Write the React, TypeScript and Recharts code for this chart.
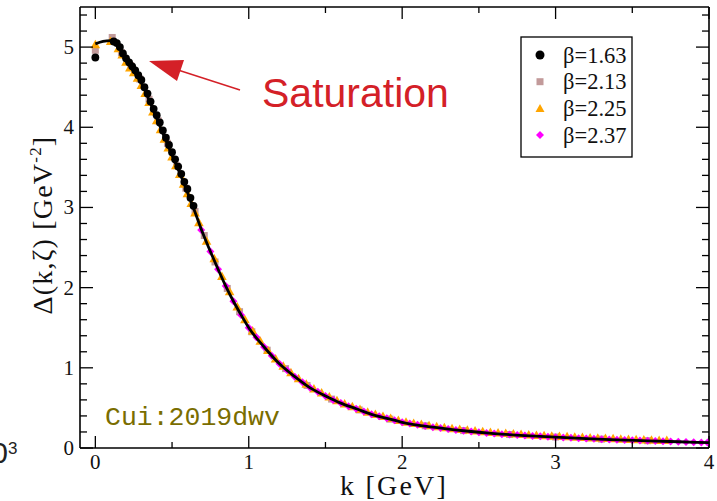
import React from 'react';
import { ComposedChart, Scatter, Line, XAxis, YAxis } from 'recharts';

// ---------- data (k [GeV], Delta [GeV^-2]) ----------
const fitCurve: number[][] = [[0,5.04],[0.05,5.07],[0.1,5.08],[0.125,5.06],[0.15,5.0],[0.2,4.84],[0.25,4.7],[0.3,4.55],[0.35,4.34],[0.4,4.11],[0.45,3.88],[0.5,3.65],[0.55,3.43],[0.6,3.19],[0.65,2.94],[0.7,2.68],[0.75,2.45],[0.8,2.23],[0.85,2.02],[0.9,1.83],[0.95,1.66],[1.0,1.5],[1.1,1.26],[1.2,1.05],[1.3,0.89],[1.4,0.75],[1.5,0.65],[1.6,0.56],[1.7,0.49],[1.8,0.42],[1.9,0.37],[2.0,0.32],[2.2,0.26],[2.4,0.215],[2.6,0.18],[2.8,0.155],[3.0,0.135],[3.2,0.118],[3.4,0.102],[3.6,0.09],[3.8,0.078],[4.0,0.067]];

const beta163: number[][] = [[0,4.87],[0.12,5.07],[0.14,5.05],[0.16,5.0],[0.18,4.92],[0.2,4.86],[0.22,4.81],[0.24,4.76],[0.26,4.71],[0.28,4.65],[0.3,4.59],[0.32,4.5],[0.34,4.42],[0.36,4.32],[0.38,4.23],[0.4,4.15],[0.42,4.06],[0.44,3.96],[0.46,3.87],[0.48,3.78],[0.5,3.69],[0.52,3.6],[0.54,3.51],[0.56,3.42],[0.58,3.32],[0.6,3.23],[0.62,3.12],[0.64,3.02]];

const beta213: number[][] = [[0,4.96],[0.11,5.12],[0.17,4.93],[0.23,4.77],[0.29,4.6],[0.35,4.35],[0.41,4.08],[0.47,3.8],[0.53,3.52],[0.59,3.24],[0.65,2.95],[0.71,2.65],[0.78,2.32],[0.86,1.99],[0.94,1.7],[1.02,1.45],[1.12,1.22],[1.24,0.99],[1.38,0.78],[1.54,0.61],[1.72,0.475],[1.92,0.36],[2.15,0.277],[2.4,0.217],[2.7,0.168],[3.0,0.137],[3.3,0.111],[3.6,0.091]];

const beta225: number[][] = [[0,5.03],[0.1,5.07],[0.15,4.98],[0.175,4.9],[0.2,4.81],[0.225,4.74],[0.25,4.68],[0.275,4.61],[0.3,4.52],[0.325,4.42],[0.35,4.31],[0.375,4.19],[0.4,4.08],[0.425,3.97],[0.45,3.85],[0.475,3.74],[0.5,3.63],[0.525,3.52],[0.55,3.41],[0.575,3.29],[0.6,3.17],[0.625,3.05],[0.65,2.93],[0.675,2.81],[0.725,2.58],[0.775,2.36],[0.825,2.14],[0.875,1.95],[0.925,1.76],[0.975,1.6],[1.025,1.46],[1.075,1.33],[1.125,1.215],[1.175,1.11],[1.225,1.02],[1.275,0.94],[1.325,0.865],[1.375,0.795],[1.425,0.735],[1.475,0.685],[1.525,0.635],[1.575,0.59],[1.625,0.55],[1.675,0.515],[1.725,0.48],[1.775,0.447],[1.825,0.417],[1.875,0.392],[1.925,0.367],[1.975,0.342],[2.025,0.322],[2.075,0.307],[2.125,0.292],[2.175,0.277],[2.225,0.264],[2.275,0.252],[2.325,0.241],[2.375,0.23],[2.425,0.22],[2.475,0.211],[2.525,0.202],[2.575,0.194],[2.625,0.186],[2.675,0.18],[2.725,0.174],[2.775,0.168],[2.825,0.162],[2.875,0.157],[2.925,0.152],[2.975,0.147],[3.025,0.143],[3.075,0.139],[3.125,0.135],[3.175,0.13],[3.225,0.126],[3.275,0.122],[3.325,0.118],[3.375,0.114],[3.425,0.11],[3.475,0.107],[3.525,0.104],[3.575,0.101],[3.625,0.098],[3.675,0.095],[3.725,0.092]];

const beta237: number[][] = [[0.69,2.72],[0.75,2.45],[0.8,2.23],[0.85,2.02],[0.9,1.83],[0.95,1.66],[1.0,1.5],[1.05,1.38],[1.1,1.26],[1.15,1.15],[1.2,1.05],[1.25,0.97],[1.3,0.89],[1.35,0.82],[1.4,0.75],[1.45,0.7],[1.5,0.65],[1.55,0.6],[1.6,0.56],[1.65,0.52],[1.7,0.49],[1.75,0.455],[1.8,0.42],[1.85,0.395],[1.9,0.37],[1.95,0.345],[2.0,0.32],[2.05,0.305],[2.1,0.29],[2.15,0.275],[2.2,0.26],[2.25,0.248],[2.3,0.237],[2.35,0.226],[2.4,0.215],[2.45,0.206],[2.5,0.197],[2.55,0.188],[2.6,0.18],[2.65,0.173],[2.7,0.167],[2.75,0.161],[2.8,0.155],[2.85,0.15],[2.9,0.145],[2.95,0.14],[3.0,0.135],[3.05,0.131],[3.1,0.127],[3.15,0.122],[3.2,0.118],[3.25,0.114],[3.3,0.11],[3.35,0.106],[3.4,0.102],[3.45,0.099],[3.5,0.096],[3.55,0.093],[3.6,0.09],[3.65,0.087],[3.7,0.084],[3.75,0.081],[3.8,0.078],[3.85,0.075],[3.9,0.072],[3.95,0.07],[3.99,0.068]];

const seriesNames = ['β=1.63', 'β=2.13', 'β=2.25', 'β=2.37'];
const seriesColors = ['#000000', '#c29a9a', '#ffa500', '#ff00ff'];

const xTicks = [0, 0.5, 1, 1.5, 2, 2.5, 3, 3.5, 4];
const yTicks = [0, 0.2, 0.4, 0.6, 0.8, 1, 1.2, 1.4, 1.6, 1.8, 2, 2.2, 2.4, 2.6, 2.8, 3, 3.2, 3.4, 3.6, 3.8, 4, 4.2, 4.4, 4.6, 4.8, 5, 5.2, 5.4];
const xLabel = 'k [GeV]';
const annotation = 'Saturation';
const citation = 'Cui:2019dwv';

const toRows = (a: number[][]) => a.map(([k, v]) => ({ k, v }));

const SERIF = '"Liberation Serif", "Times New Roman", serif';
const isMajor = (v: number) => Math.abs(v - Math.round(v)) < 1e-6;

const BottomTick = (p: any) => {
  const { x, y, payload } = p;
  const major = isMajor(payload.value);
  return (
    <g>
      <line x1={x} x2={x} y1={y} y2={y - (major ? 12 : 6)} stroke="#000" strokeWidth={1.3} />
      {major && (
        <text x={x} y={y + 21} textAnchor="middle" fontFamily={SERIF} fontSize={21} fill="#111">{payload.value}</text>
      )}
    </g>
  );
};
const TopTick = (p: any) => {
  const { x, y, payload } = p;
  const major = isMajor(payload.value);
  return <line x1={x} x2={x} y1={y} y2={y + (major ? 12 : 6)} stroke="#000" strokeWidth={1.3} />;
};
const LeftTick = (p: any) => {
  const { x, y, payload } = p;
  const major = isMajor(payload.value);
  return (
    <g>
      <line x1={x} x2={x + (major ? 13 : 7)} y1={y} y2={y} stroke="#000" strokeWidth={1.3} />
      {major && (
        <text x={x - 6} y={y + 7} textAnchor="end" fontFamily={SERIF} fontSize={21} fill="#111">{payload.value}</text>
      )}
    </g>
  );
};
const RightTick = (p: any) => {
  const { x, y, payload } = p;
  const major = isMajor(payload.value);
  return <line x1={x} x2={x - (major ? 13 : 7)} y1={y} y2={y} stroke="#000" strokeWidth={1.3} />;
};

const CircleShape = (p: any) => <circle cx={p.cx} cy={p.cy} r={3.9} fill={seriesColors[0]} />;
const SquareShape = (p: any) => <rect x={p.cx - 3.5} y={p.cy - 3.5} width={7} height={7} fill={seriesColors[1]} />;
const TriShape = (p: any) => (
  <polygon points={`${p.cx},${p.cy - 5} ${p.cx - 4.8},${p.cy + 3.5} ${p.cx + 4.8},${p.cy + 3.5}`} fill={seriesColors[2]} />
);
const DiamondShape = (p: any) => (
  <polygon points={`${p.cx},${p.cy - 4} ${p.cx + 4},${p.cy} ${p.cx},${p.cy + 4} ${p.cx - 4},${p.cy}`} fill={seriesColors[3]} />
);

const legendMarker = (i: number, x: number, y: number) => {
  if (i === 0) return <circle cx={x} cy={y} r={4.5} fill={seriesColors[0]} />;
  if (i === 1) return <rect x={x - 3.5} y={y - 3.5} width={7} height={7} fill={seriesColors[1]} />;
  if (i === 2) return <polygon points={`${x},${y - 4.5} ${x - 4.5},${y + 3.5} ${x + 4.5},${y + 3.5}`} fill={seriesColors[2]} />;
  return <polygon points={`${x},${y - 4} ${x + 4},${y} ${x},${y + 4} ${x - 4},${y}`} fill={seriesColors[3]} />;
};

export default function App() {
  const W = 717;
  const H = 501;
  return (
    <div style={{ position: 'absolute', left: 0, top: 0, width: W, height: H, background: '#fff' }}>
      <ComposedChart width={W} height={H} margin={{ top: 6, right: 7, bottom: 52, left: 79 }}>
        <XAxis xAxisId="b" dataKey="k" type="number" domain={[-0.1, 4]} ticks={xTicks} interval={0}
          orientation="bottom" height={1} tickSize={0} tickMargin={0} tick={BottomTick}
          axisLine={{ stroke: '#000', strokeWidth: 1.6 }} allowDataOverflow />
        <XAxis xAxisId="t" dataKey="k" type="number" domain={[-0.1, 4]} ticks={xTicks} interval={0}
          orientation="top" height={1} tickSize={0} tickMargin={0} tick={TopTick}
          axisLine={{ stroke: '#000', strokeWidth: 1.6 }} allowDataOverflow />
        <YAxis yAxisId="l" dataKey="v" type="number" domain={[0, 5.5]} ticks={yTicks} interval={0}
          orientation="left" width={1} tickSize={0} tickMargin={0} tick={LeftTick}
          axisLine={{ stroke: '#000', strokeWidth: 1.6 }} allowDataOverflow />
        <YAxis yAxisId="r" dataKey="v" type="number" domain={[0, 5.5]} ticks={yTicks} interval={0}
          orientation="right" width={1} tickSize={0} tickMargin={0} tick={RightTick}
          axisLine={{ stroke: '#000', strokeWidth: 1.6 }} allowDataOverflow />
        <Scatter name={seriesNames[1]} data={toRows(beta213)} xAxisId="b" yAxisId="l" dataKey="v" shape={SquareShape} isAnimationActive={false} />
        <Scatter name={seriesNames[2]} data={toRows(beta225)} xAxisId="b" yAxisId="l" dataKey="v" shape={TriShape} isAnimationActive={false} />
        <Scatter name={seriesNames[3]} data={toRows(beta237)} xAxisId="b" yAxisId="l" dataKey="v" shape={DiamondShape} isAnimationActive={false} />
        <Scatter name={seriesNames[0]} data={toRows(beta163)} xAxisId="b" yAxisId="l" dataKey="v" shape={CircleShape} isAnimationActive={false} />
        <Line data={toRows(fitCurve)} xAxisId="b" yAxisId="l" dataKey="v" type="monotone" stroke="#000" strokeWidth={2.8} dot={false} activeDot={false} isAnimationActive={false} zIndex={900} />
      </ComposedChart>
      <svg width={W} height={H} style={{ position: 'absolute', left: 0, top: 0, pointerEvents: 'none' }}>
        {/* axis titles */}
        <text transform="translate(52,225) rotate(-90)" textAnchor="middle" fontFamily={SERIF} fontSize={28} letterSpacing={1.2} fill="#111">
          <tspan>Δ(k,ζ) [GeV</tspan>
          <tspan dy={-11} fontSize={17}>-2</tspan>
          <tspan dy={11}>]</tspan>
        </text>
        <text x={394} y={495} textAnchor="middle" fontFamily={SERIF} fontSize={28} letterSpacing={2.2} fill="#111">{xLabel}</text>
        {/* cropped fragment at left edge */}
        <text x={8} y={463} textAnchor="end" fontFamily='"Liberation Sans", Arial, sans-serif' fontSize={30} fill="#222">0</text>
        <text x={8} y={454} fontFamily='"Liberation Sans", Arial, sans-serif' fontSize={17} fill="#222">3</text>
        {/* annotation */}
        <line x1={178} y1={70} x2={240} y2={90} stroke="#d42027" strokeWidth={1.5} />
        <polygon points="149,61 184,60 177,81" fill="#d42027" />
        <text x={262} y={107} fontFamily='"Liberation Sans", Arial, sans-serif' fontSize={41} fill="#d42027">{annotation}</text>
        <text x={105} y={425} fontFamily='"Liberation Mono", "DejaVu Sans Mono", monospace' fontSize={26.5} fill="#7a6d00">{citation}</text>
        {/* legend */}
        <rect x={521} y={37} width={111} height={120} fill="#fff" stroke="#000" strokeWidth={1.3} />
        {seriesNames.map((n, i) => (
          <g key={n}>
            {legendMarker(i, 540, 55 + i * 26.7)}
            <text x={563} y={55 + i * 26.7 + 7.5} fontFamily={SERIF} fontSize={22.5} fill="#111">{n}</text>
          </g>
        ))}
      </svg>
    </div>
  );
}
